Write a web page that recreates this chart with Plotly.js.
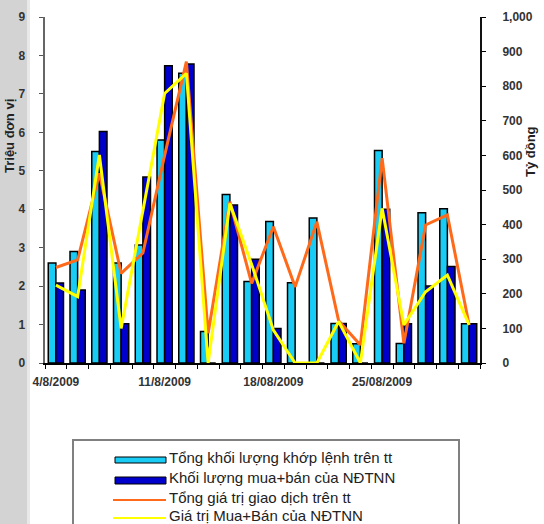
<!DOCTYPE html>
<html>
<head>
<meta charset="utf-8">
<script src="https://cdn.plot.ly/plotly-3.0.1.min.js"></script>
<style>html,body{margin:0;padding:0;background:#fff;}#chart{width:544px;height:524px;}</style>
</head>
<body>
<div id="chart"></div>
<script>
// Categories: 20 trading days
const dates = ["4/8/2009","5/8/2009","6/8/2009","7/8/2009","10/8/2009",
  "11/8/2009","12/8/2009","13/8/2009","14/8/2009","17/8/2009",
  "18/08/2009","19/8/2009","20/8/2009","21/8/2009","24/8/2009",
  "25/08/2009","26/8/2009","27/8/2009","28/8/2009","31/8/2009"];
const tickLabels = ["4/8/2009","","","","","11/8/2009","","","","",
  "18/08/2009","","","","","25/08/2009","","","",""];
// Left axis (Triệu đơn vị)
const tongKhoiLuong = [2.6,2.9,5.5,2.6,3.07,5.8,7.54,0.82,4.38,2.12,3.68,2.09,3.77,1.03,0.5,5.53,0.51,3.91,4.01,1.02];
const khoiLuongNDTNN = [2.08,1.9,6.02,1.02,4.84,7.73,7.78,0,4.11,2.7,0.9,0,0,1.03,0,4.0,1.02,2.0,2.51,1.02];
// Right axis (Tỷ đồng)
const tongGiaTri = [276,298,548,259,318,600,871,86,466,230,394,220,408,122,52,592,57,399,428,110];
const giaTriNDTNN = [225,192,601,100,440,779,837,0,461,285,95,0,0,120,0,447,110,206,254,110];

const names = ["Tổng khối lượng khớp lệnh trên tt","Khối lượng mua+bán của NĐTNN",
  "Tổng giá trị giao dịch trên tt","Giá trị Mua+Bán của NĐTNN"];
const colors = ['#19CCF5','#0000CC','#FF6A1A','#FFFF00'];

const traces = [
  {type:'bar', x:dates, y:tongKhoiLuong, name:names[0], marker:{color:colors[0], line:{color:'#000', width:1.5}}, yaxis:'y'},
  {type:'bar', x:dates, y:khoiLuongNDTNN, name:names[1], marker:{color:colors[1], line:{color:'#000', width:1.5}}, yaxis:'y'},
  {type:'scatter', mode:'lines', x:dates, y:tongGiaTri, name:names[2], line:{color:colors[2], width:3}, yaxis:'y2'},
  {type:'scatter', mode:'lines', x:dates, y:giaTriNDTNN, name:names[3], line:{color:colors[3], width:3}, yaxis:'y2'}
];

const FF = 'Liberation Sans, Arial, sans-serif';
const tickFont = {family:FF, size:12, color:'#333', weight:'bold'};

// plot area in pixels: x 45..480, y 17..363
const PL = 45, PW = 435, PT = 17, PH = 346;
const px = v => (v - PL) / PW;
const py = v => (PT + PH - v) / PH;

const shapes = [
  {type:'rect', xref:'paper', yref:'paper', x0:px(0), x1:px(27), y0:py(530), y1:py(-5), fillcolor:'#d3d3d3', line:{width:0}, layer:'below'},
  {type:'rect', xref:'paper', yref:'paper', x0:px(27), x1:px(30), y0:py(530), y1:py(-5), fillcolor:'#e8e8e8', line:{width:0}, layer:'below'},
  {type:'rect', xref:'paper', yref:'paper', x0:px(73), x1:px(459), y0:py(440), y1:py(540), fillcolor:'rgba(0,0,0,0)', line:{color:'#808080', width:2}},
  // legend swatches
  {type:'rect', xref:'paper', yref:'paper', x0:px(115), x1:px(166), y0:py(457), y1:py(463), fillcolor:colors[0], line:{color:'#000', width:1}},
  {type:'rect', xref:'paper', yref:'paper', x0:px(115), x1:px(166), y0:py(477), y1:py(484), fillcolor:colors[1], line:{color:'#000', width:1}},
  {type:'line', xref:'paper', yref:'paper', x0:px(113), x1:px(166), y0:py(500), y1:py(500), line:{color:colors[2], width:2}},
  {type:'line', xref:'paper', yref:'paper', x0:px(113), x1:px(166), y0:py(518), y1:py(518), line:{color:colors[3], width:2}}
];

const annotations = [
  {text:'Triệu đơn vị', xref:'paper', yref:'paper', x:px(9), y:py(136), xanchor:'center', yanchor:'middle', textangle:-90, showarrow:false,
    font:{family:FF, size:13, color:'#222', weight:'bold'}},
  {text:'Tỷ đồng', xref:'paper', yref:'paper', x:px(530), y:py(152), xanchor:'center', yanchor:'middle', textangle:-90, showarrow:false,
    font:{family:FF, size:13, color:'#222', weight:'bold'}}
];
const legendY = [457, 477, 497, 515];
names.forEach((n, i) => annotations.push({text:n, xref:'paper', yref:'paper', x:px(167), y:py(legendY[i]),
  xanchor:'left', yanchor:'middle', showarrow:false, font:{family:FF, size:15, color:'#222'}}));

const layout = {
  width:544, height:524,
  margin:{l:PL, r:544-PL-PW, t:PT, b:524-PT-PH, autoexpand:false},
  paper_bgcolor:'#fff', plot_bgcolor:'#fff',
  barmode:'group', bargap:0.3, bargroupgap:0,
  showlegend:false,
  xaxis:{type:'category', tickmode:'array', tickvals:dates, ticktext:tickLabels, tickson:'boundaries', tickangle:0,
    ticks:'outside', ticklen:4, tickcolor:'#000', tickfont:tickFont, ticklabelstandoff:7, automargin:false,
    showline:true, linecolor:'#000', linewidth:1.5, showgrid:false, zeroline:false},
  yaxis:{range:[0,9], dtick:1, ticks:'outside', ticklen:4, tickcolor:'#555', tickfont:tickFont, automargin:false,
    showline:true, linecolor:'#666', linewidth:2.5, showgrid:false, zeroline:false, ticklabelstandoff:11},
  yaxis2:{range:[0,1000], dtick:100, tickformat:',', overlaying:'y', side:'right', ticks:'outside', ticklen:4, automargin:false,
    tickcolor:'#000', tickfont:tickFont, showline:true, linecolor:'#111', linewidth:2,
    showgrid:false, zeroline:false, ticklabelstandoff:14},
  shapes:shapes,
  annotations:annotations
};

Plotly.newPlot('chart', traces, layout, {displayModeBar:false, staticPlot:true});
</script>
</body>
</html>
